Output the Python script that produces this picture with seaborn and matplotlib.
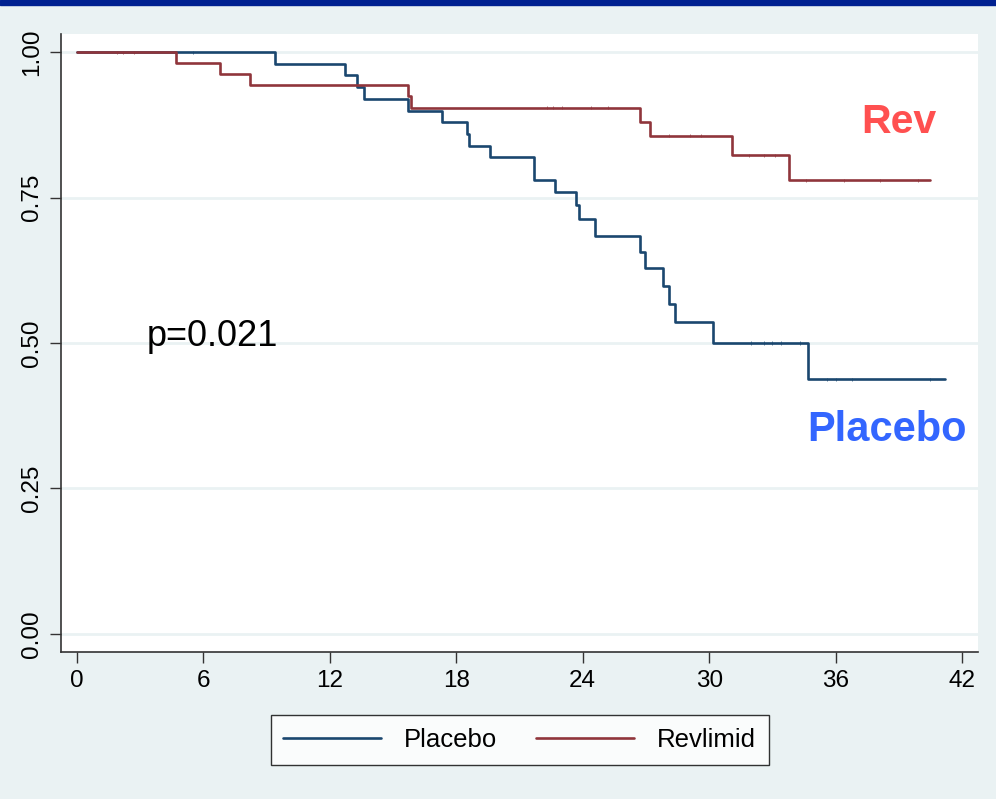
import pandas as pd
import matplotlib.pyplot as plt
import seaborn as sns
from matplotlib.patches import Rectangle

# ==========================================
# 데이터 (Kaplan-Meier step points)
# ==========================================
placebo_time = [0, 9.4, 12.7, 13.3, 13.6, 15.7, 17.3, 18.5, 18.6, 19.6, 21.7,
                22.7, 23.7, 23.8, 24.6, 26.7, 26.95, 27.8, 28.1, 28.4, 30.2,
                34.7, 41.2]
placebo_surv = [1.0, 0.979, 0.960, 0.940, 0.919, 0.899, 0.880, 0.859, 0.838,
                0.820, 0.780, 0.759, 0.737, 0.713, 0.684, 0.656, 0.629, 0.598,
                0.567, 0.536, 0.500, 0.438, 0.438]

rev_time = [0, 4.7, 6.8, 8.2, 15.7, 15.85, 26.7, 27.2, 31.1, 33.8, 40.5]
rev_surv = [1.0, 0.981, 0.962, 0.943, 0.924, 0.904, 0.880, 0.856, 0.823,
            0.780, 0.780]

# censored observations (small tick marks)
placebo_cens_time = [5.5, 32.0, 32.6, 33.0, 33.4, 34.3, 35.6, 36.0, 36.8, 40.5]
placebo_cens_surv = [1.0, 0.5, 0.5, 0.5, 0.5, 0.5, 0.438, 0.438, 0.438, 0.438]
rev_cens_time = [1.9, 2.2, 2.7, 22.3, 22.6, 23.0, 24.4, 25.2, 28.1, 29.1,
                 29.6, 31.9, 32.6, 33.1, 34.6, 36.4, 38.1, 39.9]
rev_cens_surv = [1.0, 1.0, 1.0, 0.904, 0.904, 0.904, 0.904, 0.904, 0.856,
                 0.856, 0.856, 0.823, 0.823, 0.823, 0.780, 0.780, 0.780, 0.780]

groups = ["Placebo", "Revlimid"]
x_ticks = [0, 6, 12, 18, 24, 30, 36, 42]
y_ticks = [0.0, 0.25, 0.5, 0.75, 1.0]
y_labels = ["0.00", "0.25", "0.50", "0.75", "1.00"]

# ==========================================
# 스타일
# ==========================================
BG = "#EAF2F3"
PAL = {"Placebo": "#1A476F", "Revlimid": "#90353B"}

sns.set_theme(style="white")
plt.rcParams['font.family'] = ['Liberation Sans', 'DejaVu Sans']

df = pd.concat([
    pd.DataFrame({"time": placebo_time, "surv": placebo_surv, "group": "Placebo"}),
    pd.DataFrame({"time": rev_time, "surv": rev_surv, "group": "Revlimid"}),
], ignore_index=True)
cens = pd.concat([
    pd.DataFrame({"time": placebo_cens_time, "surv": placebo_cens_surv, "group": "Placebo"}),
    pd.DataFrame({"time": rev_cens_time, "surv": rev_cens_surv, "group": "Revlimid"}),
], ignore_index=True)

fig = plt.figure(figsize=(9.96, 7.99), dpi=100, facecolor=BG)
ax = fig.add_axes([0.0612, 0.184, 0.9208, 0.7734])
ax.set_facecolor("white")

# top dark band
fig.patches.append(Rectangle((0, 0.994), 1, 0.006, transform=fig.transFigure,
                             color="#002190", zorder=0))

for yt in y_ticks:
    ax.axhline(yt, color=BG, lw=2, zorder=0)

sns.lineplot(data=df, x="time", y="surv", hue="group", hue_order=groups,
             palette=PAL, estimator=None, drawstyle="steps-post",
             linewidth=1.9, ax=ax, legend=False, zorder=3)
sns.scatterplot(data=cens, x="time", y="surv", hue="group", hue_order=groups,
                palette=PAL, marker="|", s=5, linewidth=0.6, alpha=0.8, ax=ax,
                legend=False, zorder=4)

ax.set_xlim(-0.76, 42.76)
ax.set_ylim(-0.031, 1.031)
ax.set_xticks(x_ticks)
ax.set_yticks(y_ticks)
ax.set_yticklabels(y_labels, rotation=90, va="center")
ax.tick_params(axis="both", labelsize=17.5, length=8, width=1, color="#333333",
               labelcolor="black", direction="out", bottom=True, left=True, pad=5)
ax.set_xlabel("")
ax.set_ylabel("")
for s in ["top", "right"]:
    ax.spines[s].set_visible(False)
for s in ["left", "bottom"]:
    ax.spines[s].set_color("#333333")
    ax.spines[s].set_linewidth(1.2)

ax.text(3.3, 0.495, "p=0.021", fontsize=26, color="black", va="baseline", ha="left")
ax.text(40.8, 0.88, "Rev", fontsize=29.5, fontweight="bold", color="#FF5050",
        ha="right", va="center")
ax.text(42.2, 0.35, "Placebo", fontsize=30, fontweight="bold", color="#3366FF",
        ha="right", va="center")

handles = [plt.Line2D([], [], color=PAL[g], lw=1.9) for g in groups]
leg = fig.legend(handles, groups, loc="center", bbox_to_anchor=(0.5216, 0.074),
                 ncol=2, fontsize=18.5, frameon=True, fancybox=False,
                 handlelength=3.8, handletextpad=0.9, columnspacing=1.5,
                 borderpad=0.5, edgecolor="black", facecolor="white",
                 labelcolor="black")
leg.get_frame().set_linewidth(1.0)

plt.savefig("out.png", dpi=100, facecolor=BG)
